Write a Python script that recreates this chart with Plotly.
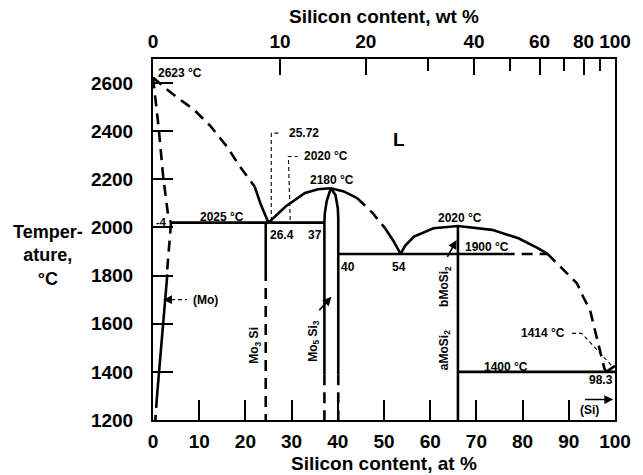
import plotly.graph_objects as go

# ---------------- data (at% Si, temperature °C) ----------------
liq_mo_dash_x = [0, 2.6, 5.4, 8.9, 12.5, 16.0, 18.8, 22.0]
liq_mo_dash_T = [2623, 2580, 2538, 2489, 2420, 2336, 2253, 2170]
liq_mo_solid_x = [22.0, 23.4, 25.0]
liq_mo_solid_T = [2170, 2092, 2020]

solidus_mo_x = [0, 1.2, 2.2, 3.3, 3.9]
solidus_mo_T = [2623, 2420, 2212, 2045, 2020]
solvus_top_x = [3.9, 3.0]
solvus_top_T = [2020, 1805]
solvus_mid_x = [3.1, 0.85]
solvus_mid_T = [1805, 1296]
solvus_low_x = [0.85, 0.5]
solvus_low_T = [1296, 1200]

eut1_x = [3.9, 37.1]
eut1_T = [2020, 2020]

mo3si_x = 24.4
mo3si_solid_T = [2020, 1823]
mo3si_dash_T = [1823, 1200]

liq_mid_rise_x = [25.0, 28.7, 32.9, 35.7, 38.5]
liq_mid_rise_T = [2020, 2087, 2143, 2159, 2163]
liq_mid_fall1_x = [38.5, 41.3, 44.2]
liq_mid_fall1_T = [2163, 2150, 2122]
liq_mid_fall2_x = [44.2, 47.5, 50.3]
liq_mid_fall2_T = [2122, 2061, 1995]
liq_mid_fall3_x = [50.3, 52.0, 53.6]
liq_mid_fall3_T = [1995, 1945, 1890]

mo5si3_left_x = [38.5, 37.6, 37.2, 37.1, 37.1]
mo5si3_left_T = [2163, 2110, 2060, 2020, 1390]
mo5si3_right_x = [38.5, 39.5, 40.0, 40.1, 40.1]
mo5si3_right_T = [2163, 2135, 2080, 2040, 1390]
mo5si3_dash_T = [1390, 1200]

eut2_solid_x = [40.1, 75.9]
eut2_dash_x = [75.9, 85.4]
eut2_T = 1890

dome_x = [53.6, 54.6, 56.5, 60.7, 66.0, 73.4, 79.1, 83.3, 85.4]
dome_T = [1890, 1925, 1962, 1997, 2006, 1990, 1955, 1914, 1890]
mosi2_x = 66.0
mosi2_T = [2006, 1200]

liq_si_x = [85.4, 88.9, 91.75, 93.1, 94.6, 96.0, 97.7, 98.1]
liq_si_T = [1890, 1823, 1768, 1712, 1657, 1546, 1414, 1400]
eut3_x = [66.0, 100]
eut3_T = [1400, 1400]
si_liq_x = [98.1, 100]
si_liq_T = [1400, 1425]

lead_2572_x = [25.6, 25.6, 27.3]
lead_2572_T = [2027, 2392, 2392]
lead_2020_x = [29.7, 29.3, 31.3]
lead_2020_T = [2031, 2295, 2295]
lead_1414_x = [90.7, 92.8, 99.2]
lead_1414_T = [1560, 1560, 1428]
lead_mo_x = [3.9, 7.3]
lead_mo_T = [1700, 1700]

x_ticks = list(range(0, 101, 10))
y_ticks = list(range(1200, 2601, 200))
wt_major = [0, 10, 20, 40, 60, 80, 100]
wt_minor = [30, 50, 70, 90]

M_MO = 95.95
M_SI = 28.086


def wt_to_at(w):
    if w >= 100:
        return 100.0
    a = w / M_SI
    b = (100 - w) / M_MO
    return 100.0 * a / (a + b)


FONT = "Liberation Sans, Arial, sans-serif"
DASH = "11px,7px"
LW = 2.6

fig = go.Figure()


def line(x, y, dash=None, width=LW):
    fig.add_trace(go.Scatter(x=x, y=y, mode="lines",
                             line=dict(color="black", width=width, dash=dash),
                             hoverinfo="skip", showlegend=False))


line(liq_mo_dash_x, liq_mo_dash_T, DASH)
line(liq_mo_solid_x, liq_mo_solid_T)
line(solidus_mo_x, solidus_mo_T, DASH)
line(solvus_top_x, solvus_top_T, DASH)
line(solvus_mid_x, solvus_mid_T)
line(solvus_low_x, solvus_low_T, DASH)
line(eut1_x, eut1_T)
line([mo3si_x, mo3si_x], mo3si_solid_T)
line([mo3si_x, mo3si_x], mo3si_dash_T, DASH)
line(liq_mid_rise_x, liq_mid_rise_T)
line(liq_mid_fall1_x, liq_mid_fall1_T)
line(liq_mid_fall2_x, liq_mid_fall2_T, DASH)
line(liq_mid_fall3_x, liq_mid_fall3_T)
line(mo5si3_left_x, mo5si3_left_T)
line(mo5si3_right_x, mo5si3_right_T)
line([mo5si3_left_x[-1]] * 2, mo5si3_dash_T, DASH)
line([mo5si3_right_x[-1]] * 2, mo5si3_dash_T, DASH)
line(eut2_solid_x, [eut2_T, eut2_T])
line(eut2_dash_x, [eut2_T, eut2_T], DASH)
line(dome_x, dome_T)
line([mosi2_x, mosi2_x], mosi2_T)
line(liq_si_x, liq_si_T, DASH)
line(eut3_x, eut3_T)
line(si_liq_x, si_liq_T)

line(lead_2572_x, lead_2572_T, "4px,3px", 1.1)
line(lead_2020_x, lead_2020_T, "4px,3px", 1.1)
line(lead_1414_x, lead_1414_T, "4px,3px", 1.1)
line(lead_mo_x, lead_mo_T, "4px,3px", 1.1)

# invisible trace on the top (wt %) axis
fig.add_trace(go.Scatter(x=[0, 100], y=[1200, 1200], xaxis="x2", mode="markers",
                         marker=dict(opacity=0), hoverinfo="skip", showlegend=False))

SMALL = dict(family=FONT, size=12, color="black", weight="bold")


def label(text, x, y, xanchor="center", size=12, angle=0):
    f = dict(SMALL)
    f["size"] = size
    fig.add_annotation(x=x, y=y, xref="x", yref="y", text=text, showarrow=False,
                       xanchor=xanchor, yanchor="middle", font=f, textangle=angle)


label("2623 °C", 0.7, 2643, "left")
label("-4", 0.3, 2024, "left", 11)
label("2025 °C", 15.0, 2045)
label("25.72", 29.0, 2392, "left")
label("2020 °C", 32.2, 2295, "left")
label("2180 °C", 38.65, 2198)
label("L", 53.3, 2364, size=19)
label("26.4", 28.0, 1969)
label("37", 35.05, 1969)
label("40", 42.2, 1837)
label("54", 53.3, 1837)
label("2020 °C", 66.4, 2041)
label("1900 °C", 67.1, 1920, "left")
label("1400 °C", 76.4, 1421)
label("1414 °C", 89.7, 1560, "right")
label("98.3", 97.0, 1366)
label("(Si)", 94.4, 1241)
label("(Mo)", 11.3, 1698)
label("Mo<sub>3</sub> Si", 22.2, 1511, angle=-90)
label("Mo<sub>5</sub> Si<sub>3</sub>", 34.8, 1528, angle=-90)
label("bMoSi<sub>2</sub>", 63.2, 1757, angle=-90)
label("aMoSi<sub>2</sub>", 63.2, 1490, angle=-90)


def arrow(x, y, ax, ay):
    fig.add_annotation(x=x, y=y, ax=ax, ay=ay, xref="x", yref="y", axref="x", ayref="y",
                       text="", showarrow=True, arrowhead=2, arrowsize=1.1,
                       arrowwidth=1.6, arrowcolor="black")


arrow(38.6, 1712, 35.7, 1650)
arrow(65.7, 1948, 63.55, 1872)
arrow(99.6, 1285, 93.2, 1285)
arrow(2.2, 1700, 3.9, 1700)

BIG = dict(family=FONT, size=19, color="black", weight="bold")

fig.add_annotation(x=0.5, y=-0.121, xref="paper", yref="paper", text="Silicon content, at %",
                   showarrow=False, font=BIG, xanchor="center", yanchor="middle")
fig.add_annotation(x=0.5, y=1.117, xref="paper", yref="paper", text="Silicon content, wt %",
                   showarrow=False, font=BIG, xanchor="center", yanchor="middle")
fig.add_annotation(x=-0.228, y=0.457, xref="paper", yref="paper",
                   text="Temper-<br>ature,<br>°C", showarrow=False,
                   font=dict(family=FONT, size=18, color="black", weight="bold"),
                   xanchor="center", yanchor="middle", align="center")

fig.update_layout(
    width=643, height=475,
    margin=dict(l=153, r=17, t=59, b=55),
    paper_bgcolor="white", plot_bgcolor="white", showlegend=False,
    font=dict(family=FONT, color="black"),
    xaxis=dict(range=[0, 100], tickvals=x_ticks, ticks="inside", ticklen=20, tickwidth=1.6,
               tickcolor="black", showline=True, linecolor="black", linewidth=2, mirror=True,
               showgrid=False, zeroline=False, ticklabelstandoff=3,
               tickfont=dict(family=FONT, size=19, color="black", weight="bold")),
    xaxis2=dict(range=[0, 100], overlaying="x", side="top",
                tickvals=[wt_to_at(w) for w in wt_major], ticktext=[str(w) for w in wt_major],
                ticks="inside", ticklen=16, tickwidth=1.6, tickcolor="black",
                minor=dict(tickvals=[wt_to_at(w) for w in wt_minor], ticks="inside",
                           ticklen=12, tickwidth=1.6, tickcolor="black"),
                showline=False, showgrid=False, zeroline=False, ticklabelstandoff=6,
                tickfont=dict(family=FONT, size=19, color="black", weight="bold")),
    yaxis=dict(range=[1200, 2700], tickvals=y_ticks, ticks="inside", ticklen=20, tickwidth=1.6,
               tickcolor="black", showline=True, linecolor="black", linewidth=2, mirror=True,
               showgrid=False, zeroline=False, ticklabelstandoff=14,
               tickfont=dict(family=FONT, size=19, color="black", weight="bold")),
)

fig.write_html(
    "out.html",
    config={"displayModeBar": False},
    post_script="document.body.style.margin='0';document.body.style.padding='0';"
                "document.body.style.overflow='hidden';",
)
